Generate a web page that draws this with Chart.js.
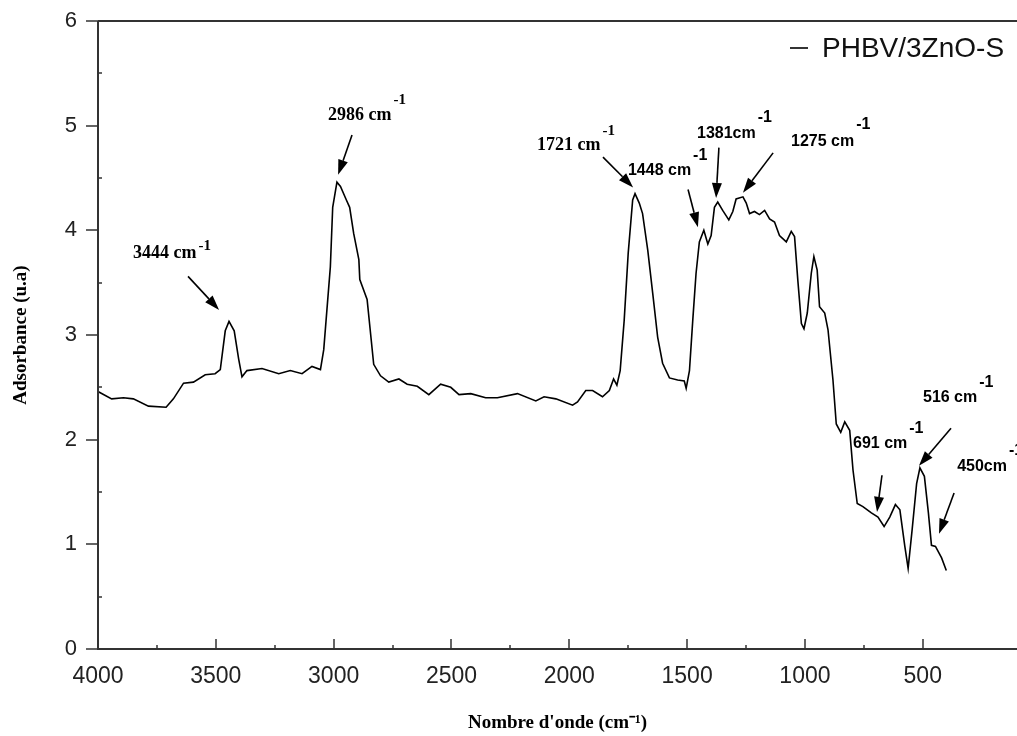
<!DOCTYPE html>
<html>
<head>
<meta charset="utf-8">
<script src="https://cdn.jsdelivr.net/npm/chart.js@4.4.1/dist/chart.umd.min.js"></script>
<style>
  html, body { margin: 0; padding: 0; background: #fff; }
  #wrap { width: 1017px; height: 736px; }
</style>
</head>
<body>
<div id="wrap"><canvas id="ftirChart" width="1017" height="736"></canvas></div>
<script>
// wavenumber (cm-1) and absorbance
const wavenumbers = [4000, 3942, 3892, 3850, 3786, 3711, 3680, 3637, 3595, 3545, 3503, 3481, 3460, 3444, 3422, 3403, 3389, 3368, 3304, 3233, 3184, 3134, 3092, 3056, 3042, 3025, 3014, 3004, 2986, 2971, 2946, 2932, 2915, 2893, 2889, 2858, 2830, 2801, 2766, 2723, 2688, 2645, 2596, 2546, 2503, 2468, 2418, 2355, 2305, 2220, 2142, 2107, 2057, 1986, 1965, 1930, 1901, 1859, 1830, 1812, 1798, 1784, 1767, 1750, 1731, 1721, 1703, 1689, 1667, 1646, 1625, 1604, 1575, 1540, 1512, 1504, 1490, 1476, 1462, 1448, 1429, 1412, 1398, 1384, 1370, 1349, 1323, 1306, 1292, 1263, 1249, 1235, 1214, 1193, 1171, 1150, 1129, 1108, 1079, 1058, 1044, 1030, 1015, 1004, 990, 973, 962, 948, 938, 916, 902, 881, 867, 848, 831, 810, 796, 778, 754, 718, 690, 664, 640, 616, 597, 576, 562, 545, 526, 512, 493, 476, 463, 446, 420, 400];
const absorbance = [2.46, 2.39, 2.40, 2.39, 2.32, 2.31, 2.39, 2.54, 2.55, 2.62, 2.63, 2.67, 3.04, 3.13, 3.04, 2.77, 2.60, 2.66, 2.68, 2.63, 2.66, 2.63, 2.70, 2.67, 2.86, 3.34, 3.65, 4.22, 4.46, 4.42, 4.29, 4.22, 3.97, 3.72, 3.53, 3.34, 2.72, 2.61, 2.55, 2.58, 2.53, 2.51, 2.43, 2.53, 2.50, 2.43, 2.44, 2.40, 2.40, 2.44, 2.37, 2.41, 2.39, 2.33, 2.36, 2.47, 2.47, 2.41, 2.47, 2.58, 2.52, 2.66, 3.14, 3.78, 4.29, 4.35, 4.26, 4.16, 3.81, 3.40, 2.98, 2.73, 2.59, 2.57, 2.56, 2.49, 2.66, 3.14, 3.59, 3.89, 4.00, 3.87, 3.95, 4.22, 4.27, 4.19, 4.10, 4.18, 4.30, 4.32, 4.26, 4.16, 4.18, 4.15, 4.19, 4.11, 4.08, 3.95, 3.89, 3.99, 3.94, 3.52, 3.11, 3.06, 3.21, 3.59, 3.75, 3.62, 3.27, 3.21, 3.05, 2.57, 2.15, 2.07, 2.17, 2.09, 1.71, 1.39, 1.36, 1.30, 1.26, 1.17, 1.26, 1.38, 1.33, 0.98, 0.77, 1.14, 1.58, 1.73, 1.65, 1.30, 0.99, 0.98, 0.87, 0.75];
const xTicks = [4000, 3500, 3000, 2500, 2000, 1500, 1000, 500];
const xMinorTicks = [3750, 3250, 2750, 2250, 1750, 1250, 750];
const yTicks = [0, 1, 2, 3, 4, 5, 6];
const seriesName = 'PHBV/3ZnO-S';

// peak labels: text anchor (wavenumber, absorbance), arrow from -> to
const peakLabels = [
  { text: '3444 cm', serif: true, at: [3851, 3.74], rise: 8,  from: [3618, 3.56], to: [3486, 3.24] },
  { text: '2986 cm', serif: true, at: [3024, 5.05], rise: 16, from: [2922, 4.91], to: [2981, 4.53] },
  { text: '1721 cm', serif: true, at: [2137, 4.77], rise: 15, from: [1857, 4.70], to: [1729, 4.41] },
  { text: '1448 cm', serif: false, at: [1751, 4.53], rise: 15, from: [1496, 4.39], to: [1454, 4.03] },
  { text: '1381cm', serif: false, at: [1458, 4.88], rise: 16, from: [1365, 4.79], to: [1377, 4.31] },
  { text: '1275 cm', serif: false, at: [1059, 4.81], rise: 17, from: [1135, 4.74], to: [1263, 4.36] },
  { text: '691 cm', serif: false, at: [796, 1.92], rise: 15, from: [673, 1.66], to: [694, 1.31] },
  { text: '516 cm', serif: false, at: [499, 2.36], rise: 15, from: [380, 2.11], to: [516, 1.75] },
  { text: '450cm', serif: false, at: [354, 1.70], rise: 16, from: [367, 1.49], to: [431, 1.10] }
];

const axisColor = '#333';

const decorPlugin = {
  id: 'decor',
  afterDatasetsDraw(chart) {
    const ctx = chart.ctx;
    const xs = chart.scales.x, ys = chart.scales.y;
    const a = chart.chartArea;
    ctx.save();

    // axis lines
    ctx.strokeStyle = axisColor;
    ctx.lineWidth = 2;
    ctx.beginPath();
    ctx.moveTo(a.left, a.top);
    ctx.lineTo(a.right, a.top);
    ctx.moveTo(a.left, a.top);
    ctx.lineTo(a.left, a.bottom);
    ctx.lineTo(a.right, a.bottom);
    ctx.stroke();

    // tick marks
    ctx.lineWidth = 1.5;
    ctx.beginPath();
    xTicks.forEach(v => {
      const px = Math.round(xs.getPixelForValue(v));
      ctx.moveTo(px, a.bottom);
      ctx.lineTo(px, a.bottom - 10);
    });
    xMinorTicks.forEach(v => {
      const px = Math.round(xs.getPixelForValue(v));
      ctx.moveTo(px, a.bottom);
      ctx.lineTo(px, a.bottom - 4);
    });
    yTicks.forEach(v => {
      const py = Math.round(ys.getPixelForValue(v));
      ctx.moveTo(a.left - 12, py);
      ctx.lineTo(a.left, py);
    });
    yTicks.slice(0, -1).forEach(v => {
      const py = Math.round(ys.getPixelForValue(v + 0.5));
      ctx.moveTo(a.left, py);
      ctx.lineTo(a.left + 4, py);
    });
    ctx.stroke();

    // peak labels and arrows
    ctx.fillStyle = '#000';
    ctx.strokeStyle = '#000';
    peakLabels.forEach(p => {
      const tx = xs.getPixelForValue(p.at[0]);
      const ty = ys.getPixelForValue(p.at[1]);
      ctx.font = p.serif ? 'bold 18px "Liberation Serif", "Times New Roman", serif'
                         : 'bold 16px "Liberation Sans", Arial, sans-serif';
      ctx.textAlign = 'left';
      ctx.textBaseline = 'alphabetic';
      ctx.fillText(p.text, tx, ty);
      const w = ctx.measureText(p.text).width;
      ctx.font = p.serif ? 'bold 15px "Liberation Serif", "Times New Roman", serif'
                         : 'bold 16px "Liberation Sans", Arial, sans-serif';
      ctx.fillText('-1', tx + w + 2, ty - p.rise);

      const x1 = xs.getPixelForValue(p.from[0]), y1 = ys.getPixelForValue(p.from[1]);
      const x2 = xs.getPixelForValue(p.to[0]), y2 = ys.getPixelForValue(p.to[1]);
      const ang = Math.atan2(y2 - y1, x2 - x1);
      const head = 15, half = 5;
      const bx = x2 - head * Math.cos(ang), by = y2 - head * Math.sin(ang);
      ctx.lineWidth = 1.6;
      ctx.beginPath();
      ctx.moveTo(x1, y1);
      ctx.lineTo(bx, by);
      ctx.stroke();
      ctx.beginPath();
      ctx.moveTo(x2, y2);
      ctx.lineTo(bx + half * Math.sin(ang), by - half * Math.cos(ang));
      ctx.lineTo(bx - half * Math.sin(ang), by + half * Math.cos(ang));
      ctx.closePath();
      ctx.fill();
    });

    // legend in the top right corner
    const ly = a.top + 27;
    ctx.lineWidth = 1.6;
    ctx.beginPath();
    ctx.moveTo(chart.width - 227, ly);
    ctx.lineTo(chart.width - 209, ly);
    ctx.stroke();
    ctx.font = '28px "Liberation Sans", Arial, sans-serif';
    ctx.textBaseline = 'middle';
    ctx.fillStyle = '#111';
    ctx.fillText(seriesName, chart.width - 195, ly + 1);

    ctx.restore();
  }
};

const ctx = document.getElementById('ftirChart').getContext('2d');
new Chart(ctx, {
  type: 'line',
  data: {
    datasets: [{
      label: seriesName,
      data: wavenumbers.map((w, i) => ({ x: w, y: absorbance[i] })),
      borderColor: '#000',
      borderWidth: 1.6,
      pointRadius: 0,
      tension: 0,
      fill: false
    }]
  },
  options: {
    responsive: false,
    animation: false,
    layout: { padding: { top: 21, right: 0, left: 0, bottom: 0 } },
    plugins: {
      legend: { display: false },
      tooltip: { enabled: false }
    },
    scales: {
      x: {
        type: 'linear',
        reverse: true,
        min: 100,
        max: 4000,
        afterBuildTicks: s => { s.ticks = xTicks.map(v => ({ value: v })); },
        afterFit: s => { s.height = 87; },
        grid: { display: false },
        border: { display: false },
        ticks: {
          color: '#222',
          padding: 6,
          maxRotation: 0,
          autoSkip: false,
          callback: v => String(v),
          font: { family: '"Liberation Sans", Arial, sans-serif', size: 23 }
        },
        title: {
          display: true,
          text: "Nombre d'onde (cm\u207B\u00B9)",
          color: '#000',
          padding: { top: 0, bottom: 2 },
          font: { family: '"Liberation Serif", "Times New Roman", serif', size: 19, weight: 'bold' }
        }
      },
      y: {
        min: 0,
        max: 6,
        afterBuildTicks: s => { s.ticks = yTicks.map(v => ({ value: v })); },
        afterFit: s => { s.width = 98; s.paddingTop = 0; s.paddingBottom = 0; },
        grid: { display: false },
        border: { display: false },
        ticks: {
          color: '#222',
          padding: 13,
          font: { family: '"Liberation Sans", Arial, sans-serif', size: 22 }
        },
        title: {
          display: true,
          text: 'Adsorbance (u.a)',
          color: '#000',
          padding: { top: 10, bottom: 0 },
          font: { family: '"Liberation Serif", "Times New Roman", serif', size: 19, weight: 'bold' }
        }
      }
    }
  },
  plugins: [decorPlugin]
});
</script>
</body>
</html>
